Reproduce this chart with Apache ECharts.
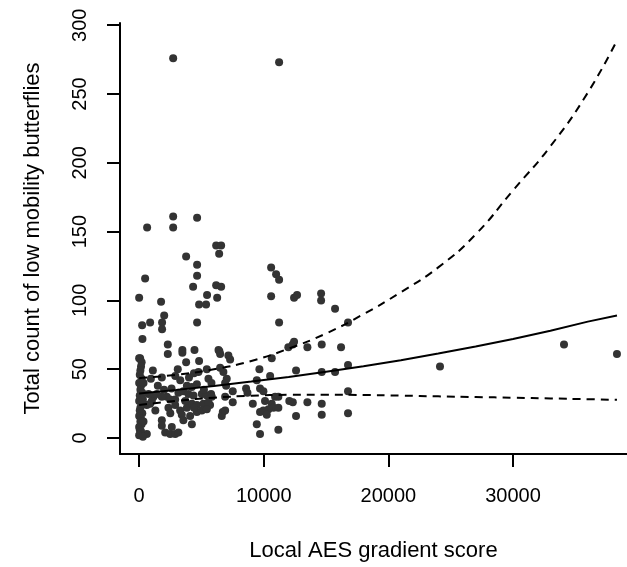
<!DOCTYPE html>
<html>
<head>
<meta charset="utf-8">
<script src="https://cdn.jsdelivr.net/npm/echarts@6/dist/echarts.min.js"></script>
<style>
  html, body { margin: 0; padding: 0; background: #fff; }
  #chart { width: 627px; height: 567px; }
</style>
</head>
<body>
<div id="chart"></div>
<script>
// Site-level observations: local AES gradient score vs. count of low mobility butterflies
const aesScore = [
  2730, 11230,
  640, 2730, 2730, 4650,
  6180, 6580, 6420, 3770,
  4650, 4650, 480, 4330, 5450, 6180, 6580, 6260,
  0, 1760, 4810, 5370, 2010, 240, 880, 1840, 1840, 4650,
  10590, 10990, 11230, 10590, 12430, 12670, 14600, 14600, 15720, 11230, 16760,
  16200, 15720, 16760, 16760, 16760,
  24140, 34090, 38340,
  12430, 12320, 13500, 14650, 11970,
  12590, 14650, 10640,
  12330, 13500, 14650,
  12590, 14650,
  10510, 9650, 9440, 9700, 9970, 9120,
  10910, 11170, 10100, 10640, 10780, 10380, 9970, 9700, 11170, 10240, 9440, 9700, 11170,
  12050,
  6440, 7160, 7300,
  6500, 6760, 7030, 6900, 6980,
  7510, 8580, 8690,
  5770, 6900, 7510, 5690,
  6710, 6630, 6900,
  6370, 6500,
  3770, 4810,
  2300, 2300, 3470, 3470, 4440,
  265,
  4760, 5430, 5560,
  3830, 4230, 4630,
  3150, 3550, 3950, 4360,
  2220, 2490, 2890,
  5030, 5430, 5830,
  2350, 2890, 3290, 3830, 4230, 4630, 5160, 5560,
  3420, 4090, 4630, 5030, 5430,
  3550, 4230,
  1150, 1020, 880, 750, 1420, 1820,
  615, 615,
  1820, 1820, 2090, 2490, 2890,
  1100, 940, 1820, 80,
  2900, 3300, 4000, 4400, 2620, 3150,
  2600, 2000, 1500, 2500, 3700, 4400, 5200, 5800, 3100, 1300,
  0, 200, 150, 100, 50, 200, 0, 150, 100, 250,
  50, 150, 0, 200, 100, 50, 250, 0, 150, 100,
  200, 0, 50, 150, 100, 0, 300, 350, 300, 350
];
const butterflyCount = [
  276, 273,
  153, 161, 153, 160,
  140, 140, 134, 132,
  126, 118, 116, 110, 104, 111, 110, 102,
  102, 99, 97, 97, 89, 82, 84, 84, 79, 84,
  124, 119, 115, 103, 102, 104, 105, 100, 94, 84, 84,
  66, 48, 53, 34, 18,
  52, 68, 61,
  70, 68, 66, 68, 66,
  49, 48, 58,
  26, 26, 25,
  16, 17,
  45, 50, 42, 36, 34, 25,
  30, 30, 27, 25, 22, 21, 20, 19, 22, 17, 10, 3, 6,
  27,
  63, 60, 57,
  51, 48, 43, 40, 38,
  34, 36, 33,
  32, 30, 26, 24,
  19, 16, 20,
  64, 61,
  55, 56,
  68, 61, 64, 62, 64,
  72,
  48, 50, 43,
  38, 37, 39,
  33, 34, 32, 31,
  30, 28, 28,
  32, 31, 30,
  22, 24, 20, 22, 25, 24, 25, 26,
  17, 16, 19, 20, 21,
  13, 10,
  30, 27, 25, 32, 32, 30,
  24, 3,
  13, 9, 4, 3, 3,
  49, 43, 44, 58,
  45, 42, 44, 47, 8, 4,
  36, 35, 38, 18, 27, 22, 35, 40, 50, 20,
  58, 55, 52, 49, 46, 43, 40, 38, 35, 33,
  31, 29, 27, 25, 22, 20, 18, 16, 14, 12,
  10, 8, 6, 5, 3, 2, 1, 40, 28, 12
];

// Fitted mean count and its confidence band
const fitScore = [0, 3000, 6000, 9000, 12000, 15000, 18000, 21000, 24000, 27000, 30000, 33000, 36000, 38340];
const fitMean  = [32.4, 35, 37.9, 41, 44.4, 48.2, 52.2, 56.6, 61.4, 66.5, 72, 78, 84.6, 89];
const fitUpper = [43.5, 46, 50, 56, 65, 76, 90, 106, 124, 148, 180, 212, 251, 289];
const fitLower = [24, 27, 29.3, 30.7, 31.4, 31.5, 31.3, 30.8, 30.3, 29.8, 29.3, 28.8, 28.2, 27.8];

const xTicks = [0, 10000, 20000, 30000];
const yTicks = [0, 50, 100, 150, 200, 250, 300];

const pairs = (xs, ys) => xs.map((x, i) => [x, ys[i]]);
const font = "'Liberation Sans', Arial, sans-serif";

const chart = echarts.init(document.getElementById('chart'), null, { renderer: 'canvas' });
chart.setOption({
  backgroundColor: '#ffffff',
  animation: false,
  grid: { left: 120, right: 0, top: 23, bottom: 110, containLabel: false },
  xAxis: {
    type: 'value',
    min: -1536,
    max: 39145,
    name: 'Local AES gradient score',
    nameLocation: 'middle',
    nameGap: 86,
    nameTextStyle: { fontFamily: font, fontSize: 22, color: '#000' },
    axisLine: { show: true, onZero: false, lineStyle: { color: '#000', width: 2 } },
    axisTick: { show: true, length: 13, customValues: xTicks, lineStyle: { color: '#000', width: 2 } },
    axisLabel: {
      customValues: xTicks, margin: 32, fontFamily: font, fontSize: 20, color: '#000',
      formatter: v => String(v)
    },
    splitLine: { show: false }
  },
  yAxis: {
    type: 'value',
    min: -11.6,
    max: 301.6,
    name: 'Total count of low mobility butterflies',
    nameLocation: 'middle',
    nameRotate: 90,
    nameGap: 76,
    nameTextStyle: { fontFamily: font, fontSize: 22, color: '#000' },
    axisLine: { show: true, onZero: false, lineStyle: { color: '#000', width: 2 } },
    axisTick: { show: true, length: 13, customValues: yTicks, lineStyle: { color: '#000', width: 2 } },
    axisLabel: {
      customValues: yTicks, rotate: 90, margin: 30, fontFamily: font, fontSize: 20, color: '#000',
      formatter: v => String(v)
    },
    splitLine: { show: false }
  },
  series: [
    {
      type: 'scatter',
      data: pairs(aesScore, butterflyCount),
      symbol: 'circle',
      symbolSize: 8,
      itemStyle: { color: '#333333', opacity: 1 },
      z: 2
    },
    {
      type: 'line',
      data: pairs(fitScore, fitMean),
      showSymbol: false,
      smooth: false,
      lineStyle: { color: '#000', width: 2, type: 'solid' },
      z: 3
    },
    {
      type: 'line',
      data: pairs(fitScore, fitUpper),
      showSymbol: false,
      smooth: true,
      lineStyle: { color: '#000', width: 2, type: [8, 6] },
      z: 3
    },
    {
      type: 'line',
      data: pairs(fitScore, fitLower),
      showSymbol: false,
      smooth: true,
      lineStyle: { color: '#000', width: 2, type: [8, 6] },
      z: 3
    }
  ]
});
</script>
</body>
</html>
